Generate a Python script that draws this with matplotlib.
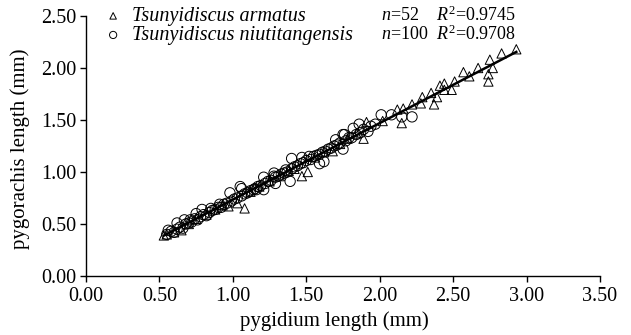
import numpy as np
import matplotlib
matplotlib.use("Agg")
import matplotlib.pyplot as plt

plt.rcParams['font.family'] = ['Liberation Serif', 'DejaVu Serif']
plt.rcParams['mathtext.fontset'] = 'custom'
plt.rcParams['mathtext.rm'] = 'Liberation Serif'
plt.rcParams['mathtext.it'] = 'Liberation Serif:italic'

# Tsunyidiscus armatus (triangles)
arm_x = [2.93, 2.83, 2.75, 2.77, 2.74, 2.74, 2.67, 2.61, 2.57, 2.51, 2.49, 2.44, 2.44,
         2.41, 2.39, 2.37, 2.35, 2.29, 2.28, 2.22, 2.15, 2.12, 2.16, 1.91, 1.89,
         1.08, 0.53, 0.65, 1.03, 0.97, 1.51, 1.47, 1.68,
         0.55, 0.60, 0.70, 0.75, 0.82, 0.88, 0.93, 1.12, 1.18, 1.25, 1.32, 1.38,
         1.42, 1.56, 1.62, 1.73, 1.78, 1.84, 2.02]
arm_y = [2.18, 2.14, 2.08, 2.00, 1.94, 1.87, 2.00, 1.92, 1.96, 1.87, 1.79, 1.85, 1.79,
         1.83, 1.72, 1.65, 1.76, 1.72, 1.66, 1.65, 1.47, 1.60, 1.61, 1.48, 1.32,
         0.65, 0.39, 0.44, 0.70, 0.67, 1.00, 0.96, 1.20,
         0.40, 0.42, 0.50, 0.55, 0.59, 0.64, 0.68, 0.81, 0.86, 0.91, 0.96, 1.01,
         1.03, 1.14, 1.19, 1.27, 1.32, 1.37, 1.49]

# Tsunyidiscus niutitangensis (circles)
niu_x = [2.01, 2.22, 2.15, 2.08, 1.92, 1.86, 1.82, 1.75, 1.62, 1.05, 0.98, 0.85, 0.79,
         0.75, 0.67, 0.62, 0.56, 1.39, 1.28, 1.21, 1.14, 1.59, 1.40, 1.47, 1.52, 1.28,
         1.21, 1.29, 1.06, 1.76, 1.70, 1.75,
         0.55, 0.58, 0.60, 0.62, 0.64, 0.66, 0.68, 0.70, 0.72, 0.74, 0.76, 0.78, 0.80,
         0.82, 0.84, 0.86, 0.88, 0.90, 0.92, 0.94, 0.96, 0.99, 1.01, 1.03, 1.06, 1.08,
         1.10, 1.12, 1.15, 1.17, 1.19, 1.22, 1.24, 1.26, 1.29, 1.31, 1.33, 1.35, 1.37,
         1.40, 1.42, 1.44, 1.46, 1.48, 1.50, 1.53, 1.55, 1.57, 1.59, 1.61, 1.63, 1.65,
         1.67, 1.69, 1.71, 1.73, 1.77, 1.79, 1.81, 1.84, 1.87, 1.89, 1.94, 1.97, 1.36,
         1.16, 0.91, 0.71]
niu_y = [1.55, 1.53, 1.53, 1.55, 1.39, 1.46, 1.42, 1.36, 1.10, 0.86, 0.80, 0.65, 0.64,
         0.60, 0.54, 0.51, 0.44, 0.91, 0.96, 0.83, 0.83, 1.08, 1.13, 1.14, 1.15, 0.99,
         0.95, 0.89, 0.84, 1.36, 1.31, 1.22,
         0.40, 0.43, 0.42, 0.45, 0.47, 0.46, 0.50, 0.51, 0.52, 0.55, 0.54, 0.57, 0.59,
         0.58, 0.61, 0.63, 0.64, 0.66, 0.66, 0.69, 0.70, 0.72, 0.74, 0.75, 0.77, 0.79,
         0.80, 0.82, 0.84, 0.86, 0.87, 0.89, 0.91, 0.92, 0.95, 0.96, 0.98, 0.99, 1.00,
         1.03, 1.05, 1.06, 1.08, 1.09, 1.11, 1.12, 1.15, 1.16, 1.17, 1.19, 1.20, 1.22,
         1.23, 1.25, 1.26, 1.28, 1.30, 1.33, 1.33, 1.36, 1.38, 1.41, 1.44, 1.46, 1.02,
         0.83, 0.69, 0.54]

labels = ["Tsunyidiscus armatus", "Tsunyidiscus niutitangensis"]
stats = r"$n$=52    $R^2$=0.9745" + "\n" + r"$n$=100  $R^2$=0.9708"
xticks = [0.0, 0.5, 1.0, 1.5, 2.0, 2.5, 3.0, 3.5]
yticks = [0.0, 0.5, 1.0, 1.5, 2.0, 2.5]

fig = plt.figure(figsize=(6.31, 3.35), dpi=100)
ax = fig.add_axes([86/631, 59/335, 514/631, 260/335])

t = ax.scatter(arm_x, arm_y, marker='^', s=45, facecolors='none', edgecolors='black',
               linewidths=0.7, label=labels[0], zorder=3)
c = ax.scatter(niu_x, niu_y, marker='o', s=55, facecolors='none', edgecolors='black',
               linewidths=0.7, label=labels[1], zorder=3)

allx = np.array(arm_x + niu_x)
ally = np.array(arm_y + niu_y)
k, b = np.polyfit(allx, ally, 1)
xs = np.array([allx.min(), allx.max()])
ax.plot(xs, k * xs + b, color='black', lw=1.8, zorder=4)

ax.set_xlim(0, 3.5)
ax.set_ylim(0, 2.5)
ax.set_xticks(xticks)
ax.set_yticks(yticks)
ax.set_xticklabels(["%.2f" % v for v in xticks])
ax.set_yticklabels(["%.2f" % v for v in yticks])
ax.spines['top'].set_visible(False)
ax.spines['right'].set_visible(False)
ax.tick_params(direction='out', length=4, width=1, labelsize=14.5, pad=3)
ax.xaxis.set_tick_params(pad=4)
for s in ['left', 'bottom']:
    ax.spines[s].set_linewidth(1.0)

ax.set_xlabel("pygidium length (mm)", fontsize=15)
ax.set_ylabel("pygorachis length (mm)", fontsize=15)
ax.xaxis.set_label_coords(0.4825, -0.135)
ax.yaxis.set_label_coords(-0.108, 0.49)

leg = fig.legend(handles=[t, c], labels=labels, loc='upper left',
                 bbox_to_anchor=(94/631, 1.003), frameon=False,
                 prop={'style': 'italic', 'size': 14.5}, handletextpad=0.4,
                 labelspacing=0, borderaxespad=0, handlelength=1.1,
                 markerscale=0.7)

fig.text(381/631, 1 - 24.5/335, stats, fontsize=13, va='center', ha='left',
         linespacing=0.95)

fig.savefig("out.png", dpi=100)
